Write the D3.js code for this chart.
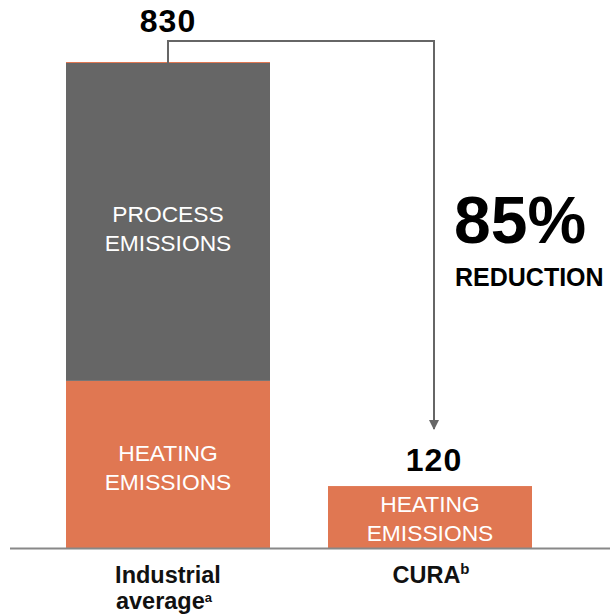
<!DOCTYPE html>
<html lang="en">
<head>
<meta charset="UTF-8">
<title>Emissions reduction</title>
<script src="https://cdnjs.cloudflare.com/ajax/libs/d3/7.8.5/d3.min.js"></script>
<style>
  body { margin: 0; background: #fff; }
  svg text { font-family: "Liberation Sans", Arial, sans-serif; }
  .seg-label { fill: #fff; }
  .total { font-weight: bold; font-size: 32px; fill: #000; letter-spacing: 1px; }
  .cat { font-weight: bold; font-size: 23.5px; fill: #111; }
</style>
</head>
<body>
<div id="chart"></div>
<script>
// data
const categories = ["Industrial average", "CURA"];
const catSup = ["a", "b"];
const heating = [286, 106];
const process = [544, 0];
const totalLabels = ["830", "120"];
const reductionText = ["85%", "REDUCTION"];

const width = 610, height = 615;
const baseY = 548;

const svg = d3.select("#chart").append("svg")
    .attr("width", width)
    .attr("height", height);

const x = d3.scaleBand()
    .domain(categories)
    .range([66, 532])
    .paddingInner(0.2214)
    .paddingOuter(0);

const y = d3.scaleLinear()
    .domain([0, 830])
    .range([baseY, 63]);

const rows = categories.map((c, i) => ({cat: c, heating: heating[i], process: process[i]}));

const stack = d3.stack().keys(["heating", "process"])(rows);
const colors = {heating: "#E07752", process: "#666666"};

// bars
stack.forEach(layer => {
    svg.selectAll(null)
        .data(layer.filter(d => d[1] > d[0]))
        .enter()
        .append("rect")
        .attr("x", d => x(d.data.cat))
        .attr("width", x.bandwidth())
        .attr("y", d => y(d[1]))
        .attr("height", d => y(d[0]) - y(d[1]))
        .attr("fill", colors[layer.key]);
});

// thin orange line on top of first bar
svg.append("line")
    .attr("x1", x(categories[0]))
    .attr("x2", x(categories[0]) + x.bandwidth())
    .attr("y1", y(830) - 0.5)
    .attr("y2", y(830) - 0.5)
    .attr("stroke", "#E07752")
    .attr("stroke-width", 1);

// segment labels
function segLabel(cx, cy, lines, size) {
    const t = svg.append("text")
        .attr("class", "seg-label")
        .attr("text-anchor", "middle")
        .style("font-size", size + "px");
    lines.forEach((l, i) => {
        t.append("tspan").attr("x", cx).attr("y", cy + i * 28.5).text(l);
    });
}
const c0 = x(categories[0]) + x.bandwidth() / 2;
const c1 = x(categories[1]) + x.bandwidth() / 2;
segLabel(c0, 222, ["PROCESS", "EMISSIONS"], 22.8);
segLabel(c0, 461, ["HEATING", "EMISSIONS"], 22.8);
segLabel(c1, 512, ["HEATING", "EMISSIONS"], 22.8);

// baseline
svg.append("line")
    .attr("x1", 10).attr("x2", 610)
    .attr("y1", baseY + 0.5).attr("y2", baseY + 0.5)
    .attr("stroke", "#888").attr("stroke-width", 2);

// total labels
svg.append("text").attr("class", "total")
    .attr("x", c0).attr("y", 32).attr("text-anchor", "middle")
    .text(totalLabels[0]);
svg.append("text").attr("class", "total")
    .attr("x", c1 + 4).attr("y", 471).attr("text-anchor", "middle")
    .text(totalLabels[1]);

// bracket arrow
const ax = 434;
svg.append("defs").append("marker")
    .attr("id", "arr")
    .attr("viewBox", "0 0 10 10")
    .attr("refX", 9).attr("refY", 5)
    .attr("markerWidth", 5).attr("markerHeight", 5)
    .attr("orient", "auto")
    .append("path").attr("d", "M0,0 L10,5 L0,10 Z").attr("fill", "#666");

svg.append("path")
    .attr("d", `M${c0},${y(830)} V41 H${ax} V429`)
    .attr("fill", "none")
    .attr("stroke", "#666")
    .attr("stroke-width", 2)
    .attr("marker-end", "url(#arr)");

// reduction text
svg.append("text")
    .attr("x", 454).attr("y", 243)
    .style("font-weight", "bold").style("font-size", "66px")
    .text(reductionText[0]);
svg.append("text")
    .attr("x", 455).attr("y", 286)
    .style("font-weight", "bold").style("font-size", "25px")
    .text(reductionText[1]);

// category labels (two separate text lines so they don't collide)
svg.append("text").attr("class", "cat").attr("text-anchor", "middle")
    .attr("x", c0).attr("y", 583).text("Industrial");
const l2 = svg.append("text").attr("class", "cat").attr("text-anchor", "middle")
    .attr("x", c0 - 4).attr("y", 609);
l2.append("tspan").text("average");
l2.append("tspan").attr("dy", -7).style("font-size", "13px").text(catSup[0]);

const cat1 = svg.append("text").attr("class", "cat").attr("text-anchor", "middle")
    .attr("x", c1 + 1).attr("y", 583);
cat1.append("tspan").text("CURA");
cat1.append("tspan").attr("dy", -9).style("font-size", "15px").text(catSup[1]);
</script>
</body>
</html>
